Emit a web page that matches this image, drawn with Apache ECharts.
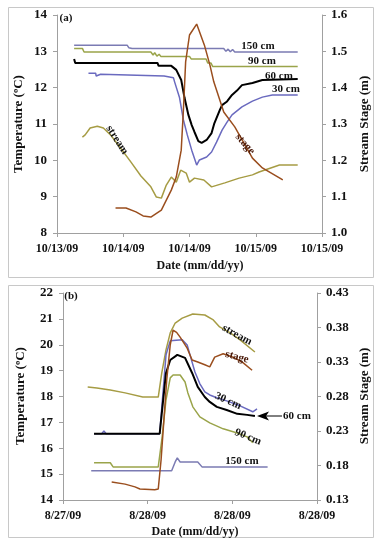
<!DOCTYPE html>
<html>
<head>
<meta charset="utf-8">
<script src="https://cdn.jsdelivr.net/npm/echarts@6/dist/echarts.min.js"></script>
<style>html,body{margin:0;padding:0;background:#fff}#c{width:384px;height:550px}</style>
</head>
<body>
<div id="c"></div>
<script>
// ---------- DATA ----------
const xLabelsA = ["10/13/09","10/14/09","10/14/09","10/15/09","10/15/09"];
const xLabelsB = ["8/27/09","8/28/09","8/28/09","8/28/09"];
const yTicksTempA = [8, 14];
const yTicksStageA = [1.0, 1.6];
const yTicksTempB = [14, 22];
const yTicksStageB = [0.13, 0.43];

// Panel (a): [hours from first tick, value]
const a150 = [[3.1,13.17],[12.7,13.17],[13.0,13.10],[13.3,13.15],[13.6,13.08],[30.2,13.08],[30.6,13.0],[31.0,13.06],[31.4,12.99],[31.8,13.05],[32.2,12.98],[43.6,12.98]];
const a90 = [[3.1,13.08],[4.6,13.08],[4.9,12.98],[17.0,12.98],[17.4,12.9],[17.7,12.96],[18.1,12.87],[18.5,12.92],[18.8,12.86],[24.0,12.86],[24.3,12.79],[27.0,12.79],[27.3,12.68],[27.9,12.68],[28.2,12.58],[43.6,12.58]];
const a60 = [[3.1,12.79],[3.3,12.68],[18.2,12.68],[18.4,12.6],[20.7,12.6],[21.6,12.49],[22.5,12.21],[23.1,11.72],[23.8,11.25],[24.4,10.97],[24.9,10.78],[25.6,10.53],[26.2,10.48],[27.1,10.56],[28.0,10.75],[28.5,11.02],[29.5,11.39],[29.9,11.52],[30.8,11.62],[31.7,11.80],[32.6,11.92],[33.5,12.07],[35.4,12.13],[37.2,12.21],[43.6,12.24]];
const a30 = [[5.7,12.40],[7.0,12.40],[7.1,12.32],[7.9,12.37],[8.2,12.32],[19.4,12.32],[19.6,12.27],[21.1,12.27],[21.3,12.16],[21.6,12.16],[22.2,11.72],[22.9,11.11],[23.6,10.70],[24.4,10.28],[25.3,9.87],[25.8,10.01],[27.1,10.09],[28.0,10.23],[28.9,10.50],[29.9,10.83],[30.8,11.05],[31.7,11.25],[33.5,11.47],[35.4,11.63],[37.2,11.74],[39.0,11.80],[43.6,11.80]];
const aStream = [[4.6,10.64],[5.1,10.70],[6.0,10.89],[7.3,10.94],[8.4,10.89],[9.7,10.70],[11.5,10.34],[13.4,9.95],[15.2,9.57],[17.0,9.27],[18.0,8.99],[18.9,8.96],[19.8,9.32],[20.7,9.54],[21.6,9.40],[22.4,9.73],[23.4,9.65],[24.0,9.40],[24.9,9.51],[26.6,9.46],[28.0,9.27],[30.4,9.38],[33.0,9.51],[35.4,9.60],[36.6,9.68],[40.3,9.87],[43.6,9.87]];
const aStage = [[10.6,1.069],[12.5,1.069],[14.3,1.058],[15.6,1.047],[17.0,1.044],[18.9,1.063],[20.7,1.118],[21.6,1.154],[22.5,1.228],[22.9,1.339],[23.3,1.471],[24.0,1.545],[25.3,1.575],[26.7,1.517],[27.7,1.462],[28.4,1.416],[30.2,1.333],[32.2,1.292],[35.4,1.206],[37.2,1.179],[40.9,1.146]];

// Panel (b)
const bStream = [[3.5,18.37],[4.8,18.33],[6.7,18.25],[8.8,18.14],[11.3,17.98],[13.5,17.98],[14.0,18.91],[14.6,19.80],[15.2,20.46],[15.9,20.84],[16.9,21.03],[18.4,21.19],[20.1,21.15],[21.3,20.96],[22.2,20.69],[23.7,20.46],[25.1,20.19],[27.2,19.72]];
const bStage = [[6.9,0.156],[8.8,0.153],[10.2,0.149],[10.9,0.146],[13.0,0.145],[13.5,0.146],[13.9,0.188],[14.3,0.246],[14.7,0.304],[15.2,0.355],[15.6,0.376],[16.1,0.373],[16.6,0.366],[17.6,0.350],[18.3,0.333],[19.1,0.330],[20.1,0.326],[20.8,0.323],[21.5,0.337],[22.7,0.342],[24.1,0.337],[25.5,0.329],[26.8,0.318]];
const b60 = [[4.4,16.56],[13.7,16.56],[14.2,17.87],[14.6,18.91],[15.2,19.41],[16.2,19.61],[17.3,19.49],[18.3,18.91],[19.1,18.37],[20.1,17.98],[20.8,17.79],[21.8,17.60],[23.2,17.48],[24.7,17.33],[26.1,17.29],[27.2,17.25]];
const b30 = [[4.4,16.56],[5.5,16.56],[5.8,16.67],[6.1,16.56],[13.7,16.56],[14.2,18.25],[14.6,19.61],[15.2,20.15],[16.9,20.19],[17.6,19.99],[18.0,19.61],[18.7,18.95],[19.4,18.49],[20.1,18.18],[20.8,18.06],[21.8,17.95],[23.2,17.83],[25.1,17.64],[26.9,17.41],[27.5,17.52]];
const b90 = [[4.4,15.44],[6.7,15.44],[7.1,15.28],[13.5,15.28],[14.0,16.32],[14.6,17.87],[15.2,18.72],[15.6,18.83],[16.6,18.83],[17.3,18.56],[17.7,18.14],[18.4,17.60],[19.4,17.21],[20.8,16.98],[22.7,16.75],[24.7,16.59],[26.1,16.44],[26.9,16.21]];
const b150 = [[4.0,15.13],[15.4,15.13],[15.9,15.47],[16.2,15.63],[16.6,15.47],[19.1,15.47],[19.7,15.28],[29.0,15.28]];

// ---------- STYLE ----------
const FONT = '"Liberation Serif", "Times New Roman", serif';
const C150 = '#7b7bb3', C90 = '#9aa44a', C60 = '#000000', C30 = '#6a6abf', CSTREAM = '#a69c44', CSTAGE = '#9a4e1e';
const axisGray = '#a0a0a0';

function xAx(gi, labels) {
  return {
    type: 'value', gridIndex: gi, min: 0, max: (labels.length - 1) * 12, interval: 12,
    axisLine: {show: true, lineStyle: {color: axisGray}},
    axisTick: {show: true, length: 4, lineStyle: {color: axisGray}},
    splitLine: {show: false},
    axisLabel: {margin: 10, color: '#111', fontFamily: FONT, fontWeight: 'bold', fontSize: 12,
      formatter: v => labels[Math.round(v / 12)] || ''}
  };
}
function yAx(gi, lim, interval, pos, dec) {
  return {
    type: 'value', gridIndex: gi, position: pos, min: lim[0], max: lim[1], interval: interval,
    axisLine: {show: true, lineStyle: {color: axisGray}},
    axisTick: {show: true, length: 4, lineStyle: {color: axisGray}},
    splitLine: {show: false},
    axisLabel: {margin: pos === 'left' ? 10 : 9, color: '#111', fontFamily: FONT, fontWeight: 'bold', fontSize: 13,
      formatter: v => v.toFixed(dec)}
  };
}
function ln(data, color, xi, yi, w) {
  return {type: 'line', data: data, xAxisIndex: xi, yAxisIndex: yi, showSymbol: false, symbol: 'none',
    lineStyle: {color: color, width: w || 1.5}, itemStyle: {color: color}, animation: false, z: 3};
}
function txt(x, y, s, opt) {
  opt = opt || {};
  return {type: 'text', x: x, y: y, rotation: opt.rot || 0, z: 10,
    style: {text: s, fill: opt.color || '#111', font: 'bold ' + (opt.size || 11) + 'px ' + FONT,
      textAlign: opt.align || 'center', textVerticalAlign: 'middle'}};
}

const chart = echarts.init(document.getElementById('c'), null, {renderer: 'canvas'});
chart.setOption({
  animation: false,
  backgroundColor: '#fff',
  grid: [
    {left: 57, right: 62, top: 15, bottom: 317},
    {left: 63, right: 67, top: 293, bottom: 50}
  ],
  xAxis: [xAx(0, xLabelsA), xAx(1, xLabelsB)],
  yAxis: [
    yAx(0, yTicksTempA, 1, 'left', 0),
    yAx(0, yTicksStageA, 0.1, 'right', 1),
    yAx(1, yTicksTempB, 1, 'left', 0),
    yAx(1, yTicksStageB, 0.05, 'right', 2)
  ],
  series: [
    ln(aStream, CSTREAM, 0, 0),
    ln(a150, C150, 0, 0),
    ln(a90, C90, 0, 0),
    ln(a30, C30, 0, 0),
    ln(a60, C60, 0, 0, 2),
    ln(aStage, CSTAGE, 0, 1),
    ln(bStream, CSTREAM, 1, 2),
    ln(b150, C150, 1, 2),
    ln(b90, C90, 1, 2),
    ln(b30, C30, 1, 2),
    ln(b60, C60, 1, 2, 2),
    ln(bStage, CSTAGE, 1, 3)
  ],
  graphic: [
    {type: 'rect', shape: {x: 8.5, y: 7.5, width: 365, height: 270}, style: {fill: 'none', stroke: '#c8c8c8', lineWidth: 1}, z: 1},
    {type: 'rect', shape: {x: 8.5, y: 285.5, width: 365, height: 252}, style: {fill: 'none', stroke: '#c8c8c8', lineWidth: 1}, z: 1},
    txt(66, 18, '(a)', {size: 11}),
    txt(71, 296, '(b)', {size: 11}),
    // axis titles
    txt(19, 124, 'Temperature (ºC)', {size: 13, rot: Math.PI / 2}),
    txt(365, 124, 'Stream Stage (m)', {size: 13, rot: Math.PI / 2}),
    txt(200, 266, 'Date (mm/dd/yy)', {size: 12}),
    txt(21, 396, 'Temperature (ºC)', {size: 13, rot: Math.PI / 2}),
    txt(365, 396, 'Stream Stage (m)', {size: 13, rot: Math.PI / 2}),
    txt(195, 532, 'Date (mm/dd/yy)', {size: 12}),
    // panel (a) line labels
    txt(258, 46, '150 cm'),
    txt(262, 61, '90 cm'),
    txt(279, 76, '60 cm'),
    txt(286, 89, '30 cm'),
    txt(117, 140, 'stream', {rot: -1.0}),
    txt(245, 144, 'stage', {rot: -0.85, color: '#4a1a0a'}),
    // panel (b) line labels
    txt(237, 335, 'stream', {rot: -0.5}),
    txt(237, 357, 'stage', {rot: -0.25, color: '#4a1a0a'}),
    txt(228, 401, '30 cm', {rot: -0.42}),
    txt(248, 437, '90 cm', {rot: -0.38}),
    txt(242, 461, '150 cm'),
    txt(297, 416, '60 cm', {align: 'center'}),
    {type: 'line', shape: {x1: 282, y1: 416, x2: 264, y2: 416}, style: {stroke: '#000', lineWidth: 1}, z: 10},
    {type: 'polygon', shape: {points: [[257, 416], [269, 411.5], [266, 416], [269, 420.5]]}, style: {fill: '#000'}, z: 10}
  ]
});
</script>
</body>
</html>
